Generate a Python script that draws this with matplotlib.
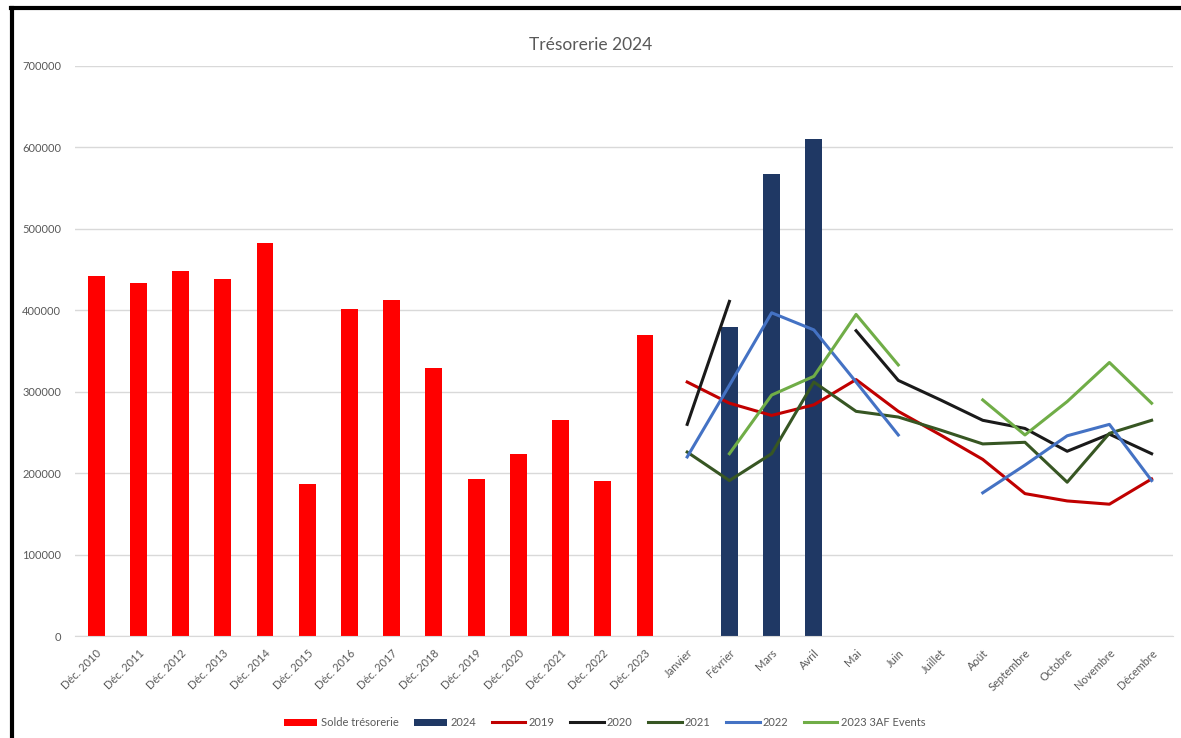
#%% modules
import numpy as np
import matplotlib.pyplot as plt
from matplotlib.lines import Line2D

plt.rcParams['font.family'] = ['Lato', 'DejaVu Sans']

#%% data
years = ['Déc. 2010', 'Déc. 2011', 'Déc. 2012', 'Déc. 2013', 'Déc. 2014',
         'Déc. 2015', 'Déc. 2016', 'Déc. 2017', 'Déc. 2018', 'Déc. 2019',
         'Déc. 2020', 'Déc. 2021', 'Déc. 2022', 'Déc. 2023']
months = ['Janvier', 'Février', 'Mars', 'Avril', 'Mai', 'Juin', 'Juillet',
          'Août', 'Septembre', 'Octobre', 'Novembre', 'Décembre']

solde = [442000, 434000, 448000, 438000, 483000, 187000, 402000, 413000,
         329000, 193000, 224000, 265000, 190000, 370000]
y2024 = [np.nan, 380000, 567000, 610000, np.nan, np.nan, np.nan, np.nan,
         np.nan, np.nan, np.nan, np.nan]

nan = np.nan
y2019 = [312000, 286000, 271000, 284000, 315000, 276000, 247000, 217000,
         175000, 166000, 162000, 193000]
y2020 = [260000, 411000, nan, nan, 375000, 314000, 290000, 265000,
         255000, 227000, 248000, 224000]
y2021 = [226000, 191000, 224000, 312000, 276000, 269000, 253000, 236000,
         238000, 189000, 249000, 265000]
y2022 = [220000, 308000, 397000, 376000, 312000, 247000, nan, 176000,
         210000, 246000, 260000, 191000]
y2023 = [nan, 224000, 296000, 319000, 395000, 333000, nan, 290000,
         247000, 288000, 336000, 286000]

#%% plot
labels = years + months
x = np.arange(len(labels))
xm = x[len(years):]
grey = '#595959'

fig = plt.figure(figsize=(11.81, 7.38), dpi=100)
ax = fig.add_axes([0.0635, 0.138, 0.9295, 0.7726])

ax.bar(x[:len(years)], solde, width=0.4, color='#FF0000', label='Solde trésorerie', zorder=2)
ax.bar(xm, y2024, width=0.4, color='#1F3864', label='2024', zorder=2)

ax.plot(xm, y2019, color='#C00000', lw=2.2, label='2019', zorder=3)
ax.plot(xm, y2020, color='#1A1A1A', lw=2.2, label='2020', zorder=3)
ax.plot(xm, y2021, color='#375623', lw=2.2, label='2021', zorder=3)
ax.plot(xm, y2022, color='#4472C4', lw=2.2, label='2022', zorder=3)
ax.plot(xm, y2023, color='#70AD47', lw=2.2, label='2023 3AF Events', zorder=3)

ax.set_xlim(-0.5, len(labels) - 0.5)
ax.set_ylim(0, 700000)
ax.set_yticks(np.arange(0, 700001, 100000))
ax.set_yticklabels([str(v) for v in range(0, 700001, 100000)])
ax.set_xticks(x)
ax.set_xticklabels(labels, rotation=45, ha='right', rotation_mode='anchor')
ax.tick_params(length=0, colors=grey, labelsize=8)
ax.tick_params(axis='x', pad=8)
ax.tick_params(axis='y', pad=10)
ax.grid(axis='y', color='#D9D9D9', lw=1, zorder=0)
ax.set_axisbelow(True)
for s in ['top', 'right', 'left']:
    ax.spines[s].set_visible(False)
ax.spines['bottom'].set_color('#D9D9D9')

fig.suptitle('Trésorerie 2024', y=0.95, fontsize=12.5, color=grey)

# legend in the same order as the series were added in the workbook
h, l = ax.get_legend_handles_labels()
order = ['Solde trésorerie', '2024', '2019', '2020', '2021', '2022', '2023 3AF Events']
h = [h[l.index(n)] for n in order]
fig.legend(h, order, loc='lower center', bbox_to_anchor=(0.512, 0.0), ncol=7, frameon=False,
           fontsize=8, labelcolor=grey, handlelength=3.0, handleheight=0.6,
           columnspacing=1.4, handletextpad=0.3)

# black frame (top and left)
fig.add_artist(Line2D([0.009, 1.0], [0.989, 0.989], color='black', lw=3, transform=fig.transFigure))
fig.add_artist(Line2D([0.0102, 0.0102], [0.0, 0.989], color='black', lw=3, transform=fig.transFigure))

fig.savefig('out.png', dpi=100)
